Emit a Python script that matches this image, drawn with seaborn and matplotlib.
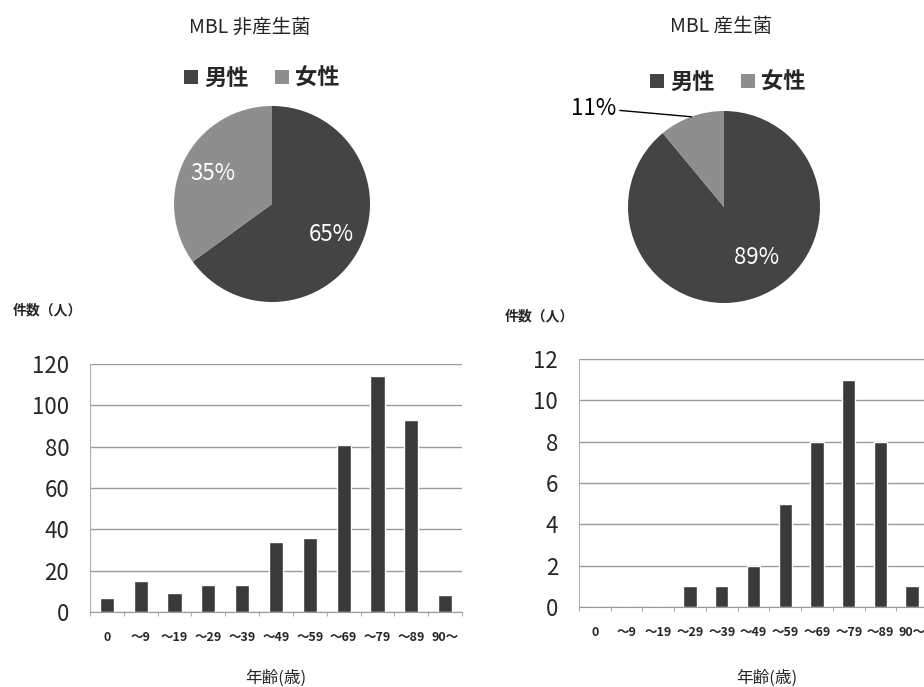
import numpy as np
import pandas as pd
import seaborn as sns
import matplotlib.pyplot as plt

# データ
age_labels = ["0", "～9", "～19", "～29", "～39", "～49", "～59", "～69", "～79", "～89", "90～"]
count_non_mbl = [7, 15, 9, 13, 13, 34, 36, 81, 114, 93, 8]
count_mbl = [0, 0, 0, 1, 1, 2, 5, 8, 11, 8, 1]
sex_labels = ["男性", "女性"]
sex_non_mbl = [65, 35]
sex_mbl = [89, 11]

sns.set_style("white")
plt.rcParams['font.family'] = ['Noto Sans CJK JP', 'DejaVu Sans']

W, H = 924, 687
fig = plt.figure(figsize=(W / 100, H / 100), dpi=100)

def rect(x0, y_top, w, h):
    # ピクセル -> 図の座標
    return [x0 / W, (H - y_top - h) / H, w / W, h / H]

bar_color = "#3a3a3a"
male_color = "#444444"
female_color = "#8e8e8e"
grid_color = "#9a9a9a"


def draw_bar(ax, values, ymax, step):
    df = pd.DataFrame({"age": age_labels, "n": values})
    sns.barplot(data=df, x="age", y="n", color=bar_color, width=0.42,
                saturation=1, ax=ax)
    ax.set_ylim(0, ymax)
    ax.set_xlim(-0.5, len(age_labels) - 0.5)
    ax.set_yticks(np.arange(0, ymax + 1, step))
    ax.yaxis.grid(True, color=grid_color, lw=1)
    ax.set_axisbelow(True)
    for s in ["top", "right"]:
        ax.spines[s].set_visible(False)
    ax.spines["left"].set_color("#b0b0b0")
    ax.spines["left"].set_linestyle((0, (1, 1)))
    ax.spines["bottom"].set_color(grid_color)
    ax.tick_params(axis="y", length=7, color=grid_color, pad=8, labelsize=16)
    ax.tick_params(axis="x", length=0, pad=14, labelsize=9)
    for t in ax.get_xticklabels():
        t.set_fontweight("bold")
    ax.set_xticks(np.arange(-0.5, len(age_labels), 1), minor=True)
    ax.tick_params(axis="x", which="minor", length=3, color=grid_color, bottom=True)
    ax.set_xlabel("")
    ax.set_ylabel("")


def draw_pie(ax, values):
    wedges, texts, autotexts = ax.pie(
        values, colors=[male_color, female_color], startangle=90,
        counterclock=False, autopct="%d%%", pctdistance=0.68,
        wedgeprops={"edgecolor": "none", "linewidth": 0},
        textprops={"color": "white", "fontsize": 16})
    ax.set_xlim(-1, 1)
    ax.set_ylim(-1, 1)
    ax.set_aspect("equal")
    return wedges, autotexts


# 左：MBL 非産生菌
ax1 = fig.add_axes(rect(90, 364, 372, 248))
draw_bar(ax1, count_non_mbl, 120, 20)

axp1 = fig.add_axes(rect(174, 106, 196, 196))
w1, at1 = draw_pie(axp1, sex_non_mbl)

# 右：MBL 産生菌
ax2 = fig.add_axes(rect(579, 359, 349, 248))
draw_bar(ax2, count_mbl, 12, 2)

axp2 = fig.add_axes(rect(628, 111, 192, 192))
w2, at2 = draw_pie(axp2, sex_mbl)
at2[0].set_position((0.34, -0.53))
at2[1].set_text("")
axp2.annotate(f"{sex_mbl[1]}%", xy=(-0.34, 0.94), xytext=(-1.12, 1.03),
              fontsize=16, color="black", ha="right", va="center",
              annotation_clip=False,
              arrowprops=dict(arrowstyle="-", color="black", lw=1,
                              shrinkA=0, shrinkB=0))

# タイトルと凡例
fig.text(250 / W, 1 - 27 / H, "MBL 非産生菌", ha="center", va="center", fontsize=14)
fig.text(721 / W, 1 - 27 / H, "MBL 産生菌", ha="center", va="center", fontsize=14)

for wedges, cx, cy in [(w1, 262, 78), (w2, 728, 82)]:
    fig.legend(wedges, sex_labels, loc="center", bbox_to_anchor=(cx / W, 1 - cy / H),
               ncol=2, frameon=False, handlelength=0.6,
               handleheight=0.6, handletextpad=0.3, columnspacing=1.2,
               prop={"weight": "bold", "size": 16})

# 軸ラベル
fig.text(13 / W, 1 - 310 / H, "件数（人）", ha="left", va="center",
         fontsize=10, fontweight="bold")
fig.text(505 / W, 1 - 316 / H, "件数（人）", ha="left", va="center",
         fontsize=10, fontweight="bold")
fig.text(276 / W, 1 - 678 / H, "年齢(歳)", ha="center", va="center", fontsize=12)
fig.text(767 / W, 1 - 678 / H, "年齢(歳)", ha="center", va="center", fontsize=12)

fig.savefig("out.png", dpi=100)
